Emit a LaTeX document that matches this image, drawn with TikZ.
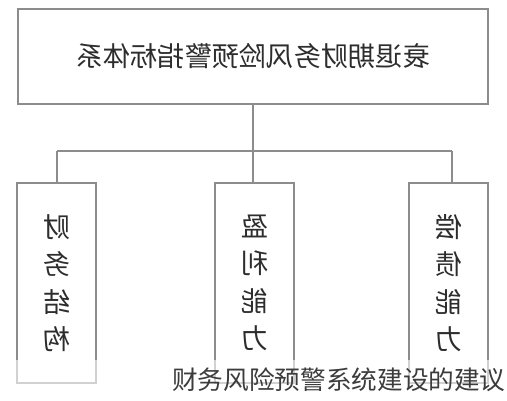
\documentclass[tikz,border=0pt]{standalone}
\usepackage{graphicx}
\usepackage{fontspec}
\newfontfamily\cjk{Noto Sans CJK SC}
\usetikzlibrary{positioning}
\definecolor{frgray}{RGB}{140,140,140}
\definecolor{txgray}{RGB}{45,45,45}
\definecolor{capgray}{RGB}{60,60,60}
\tikzset{
  headbox/.style={rectangle,draw=frgray,line width=0.6pt,minimum width=9.4cm,minimum height=1.9cm,
    font=\cjk\fontsize{15.5}{18}\selectfont,text=txgray},
  itembox/.style={rectangle,draw=frgray,line width=0.6pt,minimum width=1.58cm,minimum height=4cm,
    align=center,font=\cjk\fontsize{15.5}{21.3}\selectfont,text=txgray},
  treeline/.style={draw=frgray,line width=0.6pt},
  capnode/.style={fill=white,fill opacity=0.6,text opacity=1,text=capgray,
    font=\cjk\fontsize{14.6}{16}\selectfont,text width=10cm,align=right,
    minimum height=0.8cm,inner xsep=0.02cm,inner ysep=0pt}
}
\newcommand{\mirr}[1]{\reflectbox{#1}}

\begin{document}
\begin{tikzpicture}
  \useasboundingbox (0,0) rectangle (10.14,-8);
  \node[headbox] (sys) at (5.06,-1.13) {\mirr{衰退期财务风险预警指标体系}};
  \coordinate (bus) at (5.06,-3.02);
  \coordinate (busl) at (1.14,-3.02);
  \coordinate (busr) at (9.04,-3.02);
  \node[itembox] (fin) at (1.13,-5.66) {\mirr{财}\\\mirr{务}\\\mirr{结}\\\mirr{构}};
  \node[itembox] (prof) at (5.09,-5.66) {\mirr{盈}\\\mirr{利}\\\mirr{能}\\\mirr{力}};
  \node[itembox] (debt) at (8.97,-5.66) {\mirr{偿}\\\mirr{债}\\\mirr{能}\\\mirr{力}};
  \draw[treeline] (sys.south) -- (bus);
  \draw[treeline] (busl) -- (busr);
  \draw[treeline] (busl) -- (busl |- fin.north);
  \draw[treeline] (bus) -- (bus |- prof.north);
  \draw[treeline] (busr) -- (busr |- debt.north);
  \node[capnode,anchor=south east] (cap) at (10.14,-8) {财务风险预警系统建设的建议};
\end{tikzpicture}
\end{document}
